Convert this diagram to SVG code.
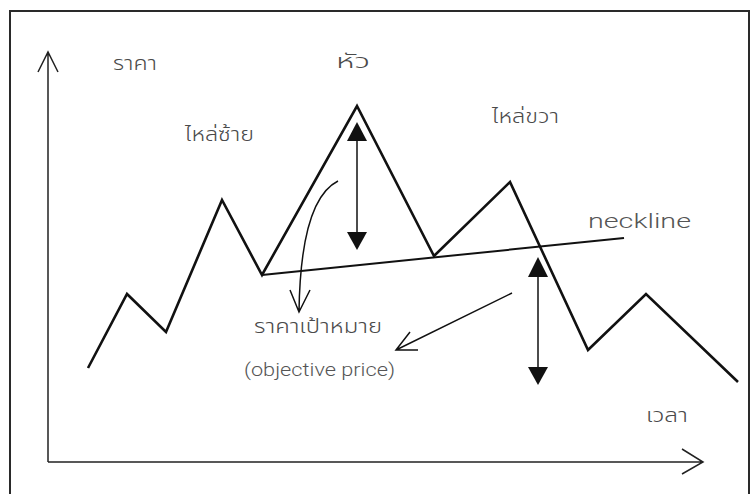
<svg xmlns="http://www.w3.org/2000/svg" width="753" height="494" viewBox="0 0 753 494">
<style>
.frame{fill:none;stroke:#2a2a2a;stroke-width:2}
.axis{fill:none;stroke:#222;stroke-width:1.5}
.price{fill:none;stroke:#111;stroke-width:2.6;stroke-linejoin:miter}
.neck{fill:none;stroke:#111;stroke-width:2}
.thin{fill:none;stroke:#111;stroke-width:1.5}
.head{fill:#111}
.lbl{font-family:"Noto Sans Thai","Noto Sans","DejaVu Sans",sans-serif;fill:#4a4a4a;font-weight:300}
.en{font-family:Roboto,"Liberation Sans",Arial,sans-serif;fill:#555;font-weight:300}
</style>
<rect x="0" y="0" width="753" height="494" fill="#fff"/>
<rect class="frame" x="10" y="11" width="739" height="500"/>
<g id="axes">
<path class="axis" d="M48,462 V52 M38,72 L48,52 L58,72"/>
<path class="axis" d="M48,462 H703 M682,449 L703,462 L682,474"/>
</g>
<g id="price">
<polyline class="price" points="88,368 127,294 166,332 222,200 262,275 357,106 434,256 510,182 588,350 646,294 738,382"/>
</g>
<g id="neckline-line">
<line class="neck" x1="262" y1="275" x2="624" y2="238"/>
</g>
<g id="connectors">
<path class="thin" d="M357,138 V236"/>
<polygon class="head" points="357,122 367,141 347,141"/>
<polygon class="head" points="357,250 367,232 347,232"/>
<path class="thin" d="M538,274 V370"/>
<polygon class="head" points="538,257 548,277 528,277"/>
<polygon class="head" points="538,385 548,367 528,367"/>
<path class="thin" d="M338,181 C312,194 300,240 299,312 M290,290 L299,312 L310,290"/>
<path class="thin" d="M512,293 L396,350 M418,350 L396,350 L410,332"/>
</g>
<g id="labels">
<text class="lbl" x="113" y="70" font-size="19" textLength="44" lengthAdjust="spacingAndGlyphs">ราคา</text>
<text class="lbl" x="336" y="68" font-size="19" textLength="34" lengthAdjust="spacingAndGlyphs">หัว</text>
<text class="lbl" x="185" y="141" font-size="19" textLength="69" lengthAdjust="spacingAndGlyphs">ไหล่ซ้าย</text>
<text class="lbl" x="492" y="123" font-size="19" textLength="67" lengthAdjust="spacingAndGlyphs">ไหล่ขวา</text>
<text class="en" x="588" y="228" font-size="21" textLength="103" lengthAdjust="spacingAndGlyphs">neckline</text>
<text class="lbl" x="254" y="333" font-size="19" textLength="128" lengthAdjust="spacingAndGlyphs">ราคาเป้าหมาย</text>
<text class="en" x="244" y="376" font-size="18" textLength="151" lengthAdjust="spacingAndGlyphs">(objective price)</text>
<text class="lbl" x="646" y="422" font-size="19" textLength="42" lengthAdjust="spacingAndGlyphs">เวลา</text>
</g>
</svg>
